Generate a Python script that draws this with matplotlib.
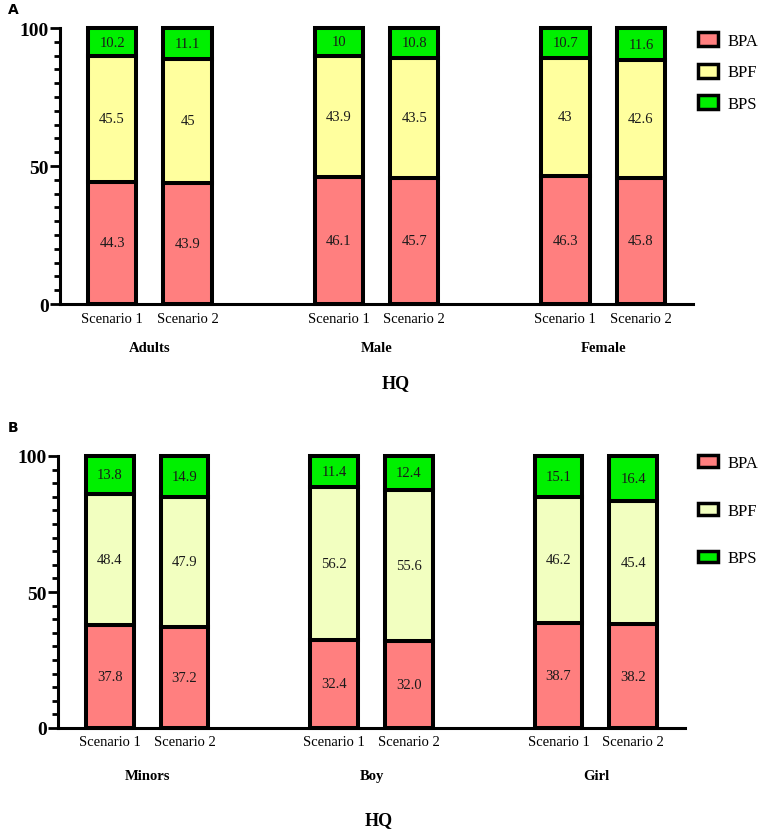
import numpy as np
import matplotlib
matplotlib.use('Agg')
import matplotlib.pyplot as plt
from matplotlib.patches import Patch

plt.rcParams['font.family'] = ['Liberation Serif', 'DejaVu Serif']

scenarios = ['Scenario 1', 'Scenario 2']
groups_a = ['Adults', 'Male', 'Female']
groups_b = ['Minors', 'Boy', 'Girl']
series = ['BPA', 'BPF', 'BPS']

# order: group1 s1, group1 s2, group2 s1, ...
bpa_a = [44.3, 43.9, 46.1, 45.7, 46.3, 45.8]
bpf_a = [45.5, 45.0, 43.9, 43.5, 43.0, 42.6]
bps_a = [10.2, 11.1, 10.0, 10.8, 10.7, 11.6]

bpa_b = [37.8, 37.2, 32.4, 32.0, 38.7, 38.2]
bpf_b = [48.4, 47.9, 56.2, 55.6, 46.2, 45.4]
bps_b = [13.8, 14.9, 11.4, 12.4, 15.1, 16.4]

col_bpa = '#ff7f7f'
col_bps = '#00f000'
col_bpf_a = '#ffff9e'
col_bpf_b = '#f2ffc0'

W, H = 767, 837
fig = plt.figure(figsize=(W / 100, H / 100), dpi=100)

pos = np.array([0, 1, 3, 4, 6, 7])


def panel(rect, groups, vals, colors, fmt, grp_y, hq_x, hq_y, tick_pad):
    ax = fig.add_axes(rect)
    bottom = np.zeros(len(pos))
    for v, c in zip(vals, colors):
        v = np.array(v)
        ax.bar(pos, v, 0.64, bottom=bottom, color=c, edgecolor='black',
               linewidth=2.9, clip_on=False, zorder=3)
        for x, b, h in zip(pos, bottom, v):
            ax.text(x, b + h / 2, fmt(h), ha='center', va='center',
                    fontsize=10.5, color='#1a1a1a', zorder=4)
        bottom = bottom + v
    ax.set_xlim(-0.69, 7.69)
    ax.set_ylim(0, 100)
    ax.set_yticks([0, 50, 100])
    ax.set_yticks(np.arange(0, 101, 5), minor=True)
    ax.set_yticklabels(['0', '50', '100'], fontsize=14, fontweight='bold')
    ax.set_xticks(pos)
    ax.set_xticklabels(scenarios * 3, fontsize=10.5)
    ax.tick_params(axis='x', length=0, pad=tick_pad)
    ax.tick_params(axis='y', which='major', length=7, width=2, pad=1)
    ax.tick_params(axis='y', which='minor', length=4.5, width=2)
    for s in ['top', 'right']:
        ax.spines[s].set_visible(False)
    for s in ['left', 'bottom']:
        ax.spines[s].set_linewidth(2.2)
    tr = ax.get_xaxis_transform()
    for i, g in enumerate(groups):
        ax.text(pos[2 * i] + 0.5, grp_y, g, transform=tr, ha='center',
                va='center', fontsize=10.5, fontweight='bold')
    ax.text(hq_x, hq_y, 'HQ', transform=tr, ha='center', va='center',
            fontsize=13, fontweight='bold')
    return ax


ax_a = panel([60 / W, 1 - 305 / H, 633 / W, 276 / H], groups_a,
             [bpa_a, bpf_a, bps_a], [col_bpa, col_bpf_a, col_bps],
             lambda h: '{:g}'.format(h), -0.156, 3.75, -0.283, 6)
ax_b = panel([58 / W, 1 - 729 / H, 627 / W, 272 / H], groups_b,
             [bpa_b, bpf_b, bps_b], [col_bpa, col_bpf_b, col_bps],
             lambda h: '{:.1f}'.format(h), -0.176, 3.6, -0.335, 5)

handles_a = [Patch(facecolor=c, edgecolor='black', linewidth=2.5)
             for c in [col_bpa, col_bpf_a, col_bps]]
handles_b = [Patch(facecolor=c, edgecolor='black', linewidth=2.5)
             for c in [col_bpa, col_bpf_b, col_bps]]

fig.legend(handles_a, series, loc='upper left',
           bbox_to_anchor=(698 / W, 1 - 33 / H), frameon=False,
           fontsize=12, borderpad=0, borderaxespad=0, handlelength=1.2,
           handleheight=0.9, handletextpad=0.6, labelspacing=0.9)
fig.legend(handles_b, series, loc='upper left',
           bbox_to_anchor=(698 / W, 1 - 456 / H), frameon=False,
           fontsize=12, borderpad=0, borderaxespad=0, handlelength=1.2,
           handleheight=0.7, handletextpad=0.6, labelspacing=1.9)

fig.text(8 / W, 1 - 10 / H, 'A', family='DejaVu Sans', fontweight='bold',
         fontsize=10, va='center', ha='left')
fig.text(8 / W, 1 - 428 / H, 'B', family='DejaVu Sans', fontweight='bold',
         fontsize=10, va='center', ha='left')

fig.savefig('out.png', dpi=100)
